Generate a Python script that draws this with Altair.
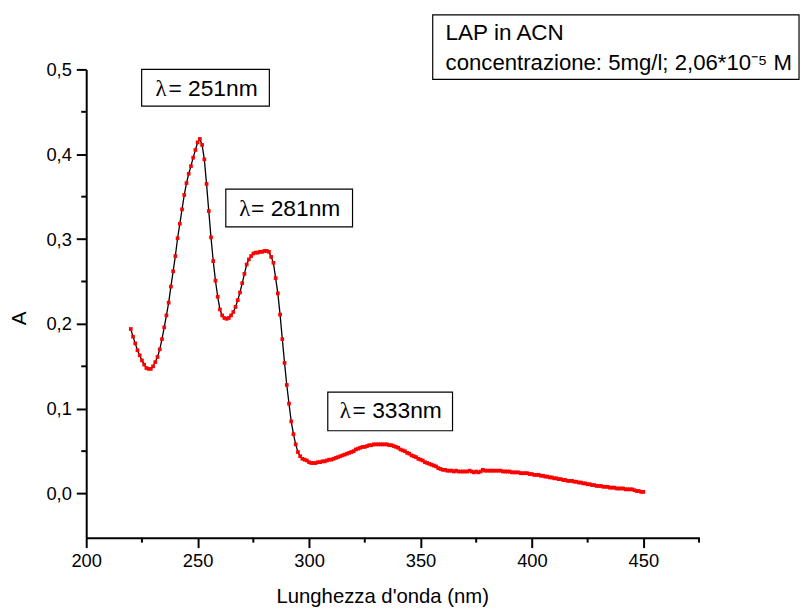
import altair as alt
import pandas as pd

# ---- data ----
wavelength = list(range(220, 451))
absorbance = [
    0.194, 0.185, 0.177, 0.169, 0.163, 0.157, 0.152, 0.148, 0.147, 0.147,
    0.150, 0.155, 0.161, 0.170, 0.182, 0.196, 0.210, 0.225, 0.244, 0.262,
    0.280, 0.301, 0.318, 0.335, 0.352, 0.366, 0.377, 0.386, 0.396, 0.405,
    0.414, 0.418, 0.411, 0.394, 0.365, 0.333, 0.302, 0.274, 0.251, 0.232,
    0.217, 0.210, 0.207, 0.206, 0.207, 0.210, 0.214, 0.220, 0.228, 0.237,
    0.248, 0.259, 0.270, 0.276, 0.280, 0.283, 0.284, 0.284, 0.285, 0.285,
    0.286, 0.286, 0.285, 0.279, 0.272, 0.254, 0.236, 0.211, 0.182, 0.154,
    0.128, 0.106, 0.085, 0.070, 0.058, 0.049, 0.044, 0.041, 0.040, 0.039,
    0.037, 0.036, 0.036, 0.036, 0.037, 0.037, 0.038, 0.038, 0.039, 0.040,
    0.040, 0.041, 0.042, 0.043, 0.044, 0.045, 0.046, 0.047, 0.048, 0.049,
    0.050, 0.052, 0.053, 0.054, 0.055, 0.055, 0.056, 0.057, 0.057, 0.058,
    0.058, 0.058, 0.058, 0.058, 0.058, 0.058, 0.057, 0.057, 0.056, 0.055,
    0.054, 0.052, 0.051, 0.050, 0.048, 0.047, 0.045, 0.044, 0.043, 0.041,
    0.040, 0.039, 0.037, 0.036, 0.035, 0.034, 0.033, 0.032, 0.030, 0.029,
    0.028, 0.028, 0.027, 0.027, 0.027, 0.026, 0.027, 0.026, 0.026, 0.026,
    0.026, 0.026, 0.027, 0.026, 0.025, 0.026, 0.025, 0.026, 0.028, 0.027,
    0.027, 0.027, 0.027, 0.027, 0.027, 0.027, 0.027, 0.026, 0.026, 0.026,
    0.026, 0.025, 0.025, 0.025, 0.025, 0.024, 0.024, 0.024, 0.024, 0.023,
    0.023, 0.022, 0.022, 0.022, 0.021, 0.021, 0.020, 0.020, 0.019, 0.019,
    0.018, 0.018, 0.017, 0.017, 0.016, 0.016, 0.015, 0.015, 0.015, 0.014,
    0.014, 0.013, 0.013, 0.012, 0.012, 0.011, 0.011, 0.010, 0.010, 0.009,
    0.009, 0.009, 0.008, 0.008, 0.008, 0.007, 0.007, 0.007, 0.006, 0.006,
    0.006, 0.006, 0.005, 0.005, 0.005, 0.005, 0.004, 0.003, 0.003, 0.002,
    0.002,
]
assert len(absorbance) == len(wavelength)

x_major = [200, 250, 300, 350, 400, 450]
x_minor = [225, 275, 325, 375, 425, 475]
y_major = [0.0, 0.1, 0.2, 0.3, 0.4, 0.5]
y_minor = [0.05, 0.15, 0.25, 0.35, 0.45]

peak_texts = ["= 251nm", "= 281nm", "= 333nm"]
legend_lines = ["LAP in ACN", "concentrazione: 5mg/l; 2,06*10\u207b\u2075 M"]
x_title = "Lunghezza d'onda (nm)"
y_title = "A"

df = pd.DataFrame({"wl": wavelength, "A": absorbance})
xmin_df = pd.DataFrame({"wl": x_minor})
ymin_df = pd.DataFrame({"A": y_minor})
one = pd.DataFrame({"k": [0]})

SANS = "Liberation Sans"
SERIF = "Liberation Serif"

xscale = alt.Scale(domain=[200, 475], nice=False, zero=False)
yscale = alt.Scale(domain=[-0.052, 0.5], nice=False, zero=False)

x_axis = alt.Axis(
    values=x_major, format="d", title=x_title,
    titleFont=SANS, titleFontSize=20.5, titleFontWeight="normal", titleColor="black",
    titleX=299, titleY=65, titleBaseline="alphabetic", titleAlign="center",
    labelFont=SANS, labelFontSize=18.5, labelColor="black", labelPadding=4,
    labelFlush=False, labelOverlap=False,
    tickSize=10, tickWidth=2, tickColor="black",
    domainColor="black", domainWidth=2, grid=False,
)
y_axis = alt.Axis(
    values=y_major, labelExpr="replace(format(datum.value, '.1f'), '.', ',')",
    title=y_title,
    titleFont=SANS, titleFontSize=21, titleFontWeight="normal", titleColor="black",
    titleX=-67, titleY=251, titleAngle=270, titleAlign="center", titleBaseline="middle",
    labelFont=SANS, labelFontSize=18.5, labelColor="black", labelPadding=5,
    labelFlush=False, labelOverlap=False,
    tickSize=10, tickWidth=2, tickColor="black",
    domainColor="black", domainWidth=2, grid=False,
)

X = alt.X("wl:Q", scale=xscale, axis=x_axis)
Y = alt.Y("A:Q", scale=yscale, axis=y_axis)

line = alt.Chart(df).mark_line(color="black", strokeWidth=1.3).encode(x=X, y=Y)
points = alt.Chart(df).mark_square(color="red", size=14, opacity=1).encode(x=X, y=Y)

x_minor_ticks = alt.Chart(xmin_df).mark_rule(color="black", strokeWidth=2).encode(
    x=X, y=alt.value(473), y2=alt.value(478),
)
y_minor_ticks = alt.Chart(ymin_df).mark_rule(color="black", strokeWidth=2).encode(
    y=Y, x=alt.value(-5), x2=alt.value(0),
)


def box(x0, x1, y0, y1):
    return alt.Chart(one).mark_rect(fill="white", stroke="black", strokeWidth=1.2).encode(
        x=alt.value(x0), x2=alt.value(x1), y=alt.value(y0), y2=alt.value(y1)
    )


def label(txt, x, y, font, size):
    return alt.Chart(one).mark_text(
        text=txt, align="left", baseline="alphabetic", font=font,
        fontSize=size, color="black",
    ).encode(x=alt.value(x), y=alt.value(y))


annotations = [
    box(56, 185, 0, 37),
    label("\u03bb", 70, 26.5, SERIF, 23),
    label(peak_texts[0], 83, 26.5, SANS, 23),
    box(141, 269, 121, 159),
    label("\u03bb", 154.5, 148, SERIF, 23),
    label(peak_texts[1], 166.5, 148, SANS, 23),
    box(244, 370, 326, 365),
    label("\u03bb", 256, 352.5, SERIF, 23),
    label(peak_texts[2], 269, 352.5, SANS, 23),
    box(350, 720, -55, 10),
    label(legend_lines[0], 363, -29.5, SANS, 22.7),
    label(legend_lines[1], 363, 0.5, SANS, 22.4),
]

chart = alt.layer(
    line, points, x_minor_ticks, y_minor_ticks, *annotations
).properties(
    width=619, height=473,
    autosize=alt.AutoSizeParams(type="none"),
    padding={"left": 79, "top": 59, "right": 104, "bottom": 68},
).configure(background="white").configure_view(stroke="transparent", strokeWidth=0)

chart.save("out.html", embed_options={"renderer": "svg", "actions": False})
